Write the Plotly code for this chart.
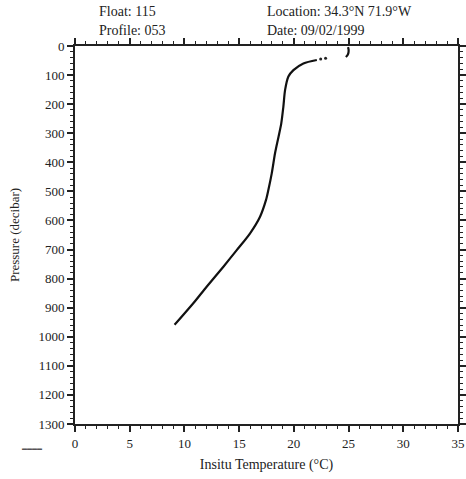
import plotly.graph_objects as go

# Main profile
pressure = [48, 60, 83, 105, 151, 209, 266, 312, 369, 438, 495, 530, 587, 644,
            702, 759, 828, 885, 959]
temperature = [22.1, 20.87, 19.96, 19.5, 19.2, 19.04, 18.85, 18.6, 18.28, 17.98,
               17.67, 17.45, 16.91, 16.0, 14.78, 13.56, 12.03, 10.81, 9.1]
# Sparse points near the top
sparse_p = [45, 42]
sparse_t = [22.45, 22.9]
# Surface samples
surf_p = [4, 12, 20, 28, 34, 38]
surf_t = [24.95, 25.0, 25.0, 24.95, 24.85, 24.75]

x_ticks = [0, 5, 10, 15, 20, 25, 30, 35]
y_ticks = list(range(0, 1301, 100))

fig = go.Figure()
fig.add_trace(go.Scatter(x=temperature, y=pressure, mode="lines",
                         line=dict(color="#111", width=2.2, shape="spline", smoothing=0.8),
                         showlegend=False))
fig.add_trace(go.Scatter(x=sparse_t, y=sparse_p, mode="markers",
                         marker=dict(color="#222", size=3), showlegend=False))
fig.add_trace(go.Scatter(x=surf_t, y=surf_p, mode="lines",
                         line=dict(color="#111", width=2.2, shape="spline"),
                         showlegend=False))

font = dict(family="Liberation Serif, Times New Roman, serif", size=13, color="#222")
head_font = dict(family="Liberation Serif, Times New Roman, serif", size=14, color="#222")

axis_common = dict(showline=True, linecolor="#222", linewidth=2, mirror="allticks",
                   ticks="outside", ticklen=6, tickwidth=1.5, tickcolor="#222",
                   showgrid=False, zeroline=False, automargin=False,
                   tickfont=font)

fig.update_xaxes(range=[0, 35], tickvals=x_ticks, side="bottom",
                 minor=dict(dtick=1, ticks="outside", ticklen=3, tickcolor="#222", tickwidth=1),
                 title=dict(text="Insitu Temperature (°C)", font=head_font, standoff=10),
                 **axis_common)
fig.update_yaxes(range=[1300, 0], tickvals=y_ticks,
                 minor=dict(dtick=20, ticks="outside", ticklen=3, tickcolor="#222", tickwidth=1),
                 title=dict(text="Pressure (decibar)", font=font, standoff=16),
                 **axis_common)

W, H = 466, 479
L, R, T, B = 75, 8, 46, 55
pw, ph = W - L - R, H - T - B


def px_to_paper(x, y):
    return (x - L) / pw, (H - y - B) / ph


texts = [
    ("Float: 115", 97, 12),
    ("Profile: 053", 97, 30),
    ("Location: 34.3°N 71.9°W", 265, 12),
    ("Date: 09/02/1999", 265, 30),
]
annotations = []
for t, x, y in texts:
    px, py = px_to_paper(x, y)
    annotations.append(dict(text=t, x=px, y=py, xref="paper", yref="paper",
                            xanchor="left", yanchor="middle", showarrow=False, font=head_font))
px, py = px_to_paper(20, 448)
annotations.append(dict(text="▬▬▬▬", x=px, y=py, xref="paper", yref="paper",
                        xanchor="left", yanchor="middle", showarrow=False,
                        font=dict(size=5, color="#555")))

fig.update_layout(
    width=W, height=H,
    margin=dict(l=L, r=R, t=T, b=B),
    paper_bgcolor="white", plot_bgcolor="white",
    font=font,
    annotations=annotations,
)

fig.write_html("out.html", config={"displayModeBar": False},
               post_script="document.body.style.margin='0';document.body.style.overflow='hidden';")
